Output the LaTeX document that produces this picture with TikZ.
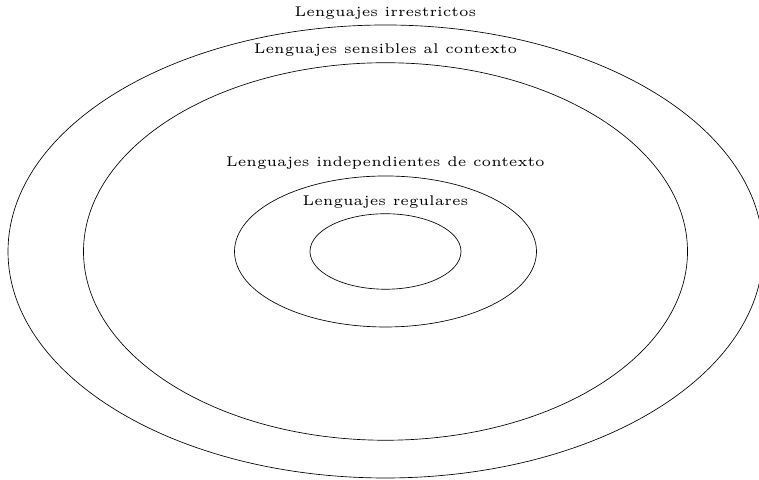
\documentclass[tikz,border=0pt]{standalone}

\tikzset{
  langlabel/.style={anchor=base, font=\tiny, scale=2.12, inner sep=0pt}
}

\begin{document}
\begin{tikzpicture}[line width=0.5pt]

  \useasboundingbox (-10.212,-6.053) rectangle (9.894,6.662);

  % Center of the hierarchy
  \coordinate (C) at (0,0);

  % Nested language classes
  \draw (C) ellipse (10 and 6);
  \draw (C) ellipse (8 and 5);
  \draw (C) ellipse (4 and 2);
  \draw (C) ellipse (2 and 1);

  % Labels
  \node[langlabel] (irr) at (0,6.23) {Lenguajes irrestrictos};
  \node[langlabel] (sens) at (0,5.25) {Lenguajes sensibles al contexto};
  \node[langlabel] (indep) at (0,2.25) {Lenguajes independientes de contexto};
  \node[langlabel] (reg) at (0,1.23) {Lenguajes regulares};

\end{tikzpicture}
\end{document}
